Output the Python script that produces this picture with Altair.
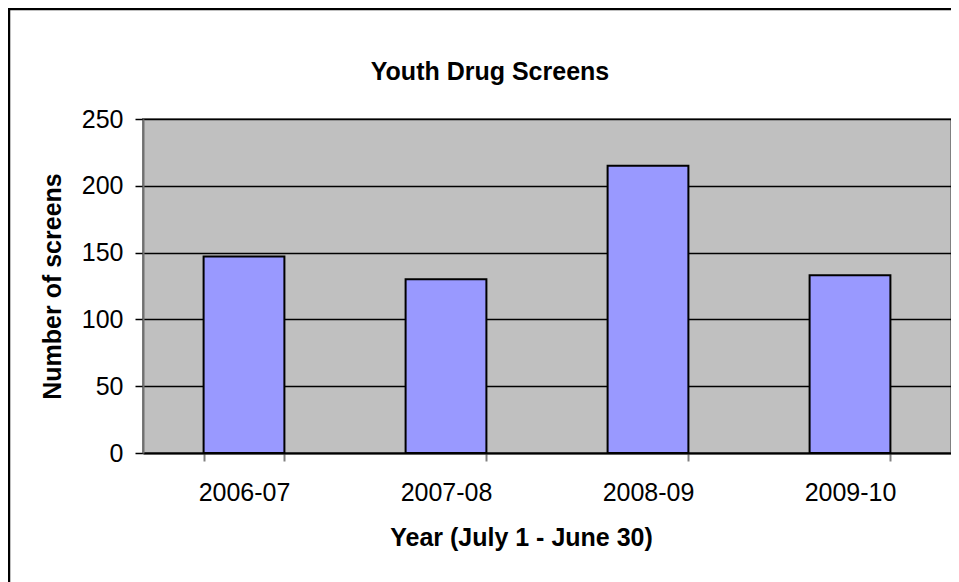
import altair as alt
import pandas as pd

years = ["2006-07", "2007-08", "2008-09", "2009-10"]
screens = [147, 130, 215, 133]
y_ticks = [0, 50, 100, 150, 200, 250]
chart_title = "Youth Drug Screens"

df = pd.DataFrame({"year": years, "screens": screens})

W, H = 808, 334
FONT = "Liberation Sans"

bars = alt.Chart(df).mark_bar(
    color="#9999FF", stroke="black", strokeWidth=2
).encode(
    x=alt.X(
        "year:N",
        sort=years,
        scale=alt.Scale(paddingInner=0.6, paddingOuter=0.3),
        axis=alt.Axis(
            title="Year (July 1 - June 30)",
            labelAngle=0,
            labelFont=FONT,
            labelFontSize=25,
            labelColor="black",
            labelPadding=19,
            tickBand="extent",
            tickColor="#808080",
            tickSize=8,
            tickWidth=2,
            domainColor="black",
            domainWidth=2,
            titleFont=FONT,
            titleFontSize=25,
            titleFontWeight="bold",
            titleColor="black",
            titleX=378,
            titleY=92,
            titleBaseline="alphabetic",
            titleAlign="center",
        ),
    ),
    y=alt.Y(
        "screens:Q",
        scale=alt.Scale(domain=[0, 250], nice=False),
        axis=alt.Axis(
            title="Number of screens",
            values=y_ticks,
            grid=True,
            gridColor="black",
            gridWidth=1.5,
            labelFont=FONT,
            labelFontSize=25,
            labelColor="black",
            labelPadding=12,
            tickColor="black",
            tickSize=8,
            tickWidth=1.5,
            domainColor="#707070",
            domainWidth=2,
            titleFont=FONT,
            titleFontSize=25,
            titleFontWeight="bold",
            titleColor="black",
            titleX=-91,
            titleY=H / 2,
            titleAngle=-90,
            titleBaseline="middle",
            titleAlign="center",
        ),
    ),
)

title_df = pd.DataFrame({"t": [chart_title]})
title = alt.Chart(title_df).mark_text(
    font=FONT, fontSize=25, fontWeight="bold", color="black",
    align="center", baseline="alphabetic"
).encode(
    text="t:N",
    x=alt.value(347),
    y=alt.value(-39),
)

border = alt.Chart(pd.DataFrame({"a": [0]})).mark_rect(
    fill="transparent", stroke="black", strokeWidth=2.5
).encode(
    x=alt.value(-134),
    x2=alt.value(W + 40),
    y=alt.value(-110),
    y2=alt.value(H + 160),
)

chart = alt.layer(bars, title, border).properties(
    width=W,
    height=H,
    autosize=alt.AutoSizeParams(type="none"),
    padding={"left": 135, "top": 111, "right": 0, "bottom": 129},
    background="white",
).configure_view(
    fill="#C0C0C0", stroke="#808080", strokeWidth=2
)

chart.save("out.html", embed_options={"renderer": "svg", "actions": False})
